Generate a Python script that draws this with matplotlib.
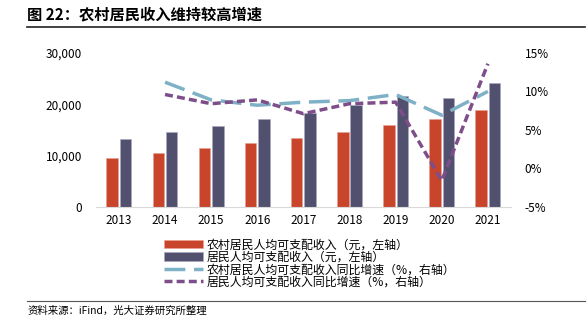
import matplotlib
matplotlib.use("Agg")
import matplotlib.pyplot as plt
import numpy as np

plt.rcParams['font.family'] = ['Noto Sans CJK SC', 'DejaVu Sans']

years = ['2013', '2014', '2015', '2016', '2017', '2018', '2019', '2020', '2021']
rural_income = [9430, 10489, 11422, 12363, 13432, 14617, 16021, 17131, 18931]
resident_income = [13220, 14491, 15712, 17111, 18322, 19853, 21559, 21210, 24100]
# growth rates start in 2014
rural_growth = [11.2, 8.9, 8.2, 8.6, 8.8, 9.6, 6.9, 10.0]
resident_growth = [9.6, 8.4, 8.9, 7.1, 8.4, 8.6, -1.6, 13.6]

labels = ['农村居民人均可支配收入（元，左轴）',
          '居民人均可支配收入（元，左轴）',
          '农村居民人均可支配收入同比增速（%，右轴）',
          '居民人均可支配收入同比增速（%，右轴）']

c_rural = '#C8442A'
c_res = '#52506F'
c_blue = '#7FB1C6'
c_purple = '#7E4E8A'

fig = plt.figure(figsize=(5.88, 3.25), dpi=100)
ax = fig.add_axes([0.163, 0.364, 0.706, 0.473])
x = np.arange(len(years))
w = 0.25
b1 = ax.bar(x - 0.145, rural_income, w, color=c_rural, edgecolor='#E8A090', linewidth=0.4, label=labels[0])
b2 = ax.bar(x + 0.145, resident_income, w, color=c_res, edgecolor='#A8A8C0', linewidth=0.4, label=labels[1])
ax.set_ylim(0, 30000)
ax.set_xlim(-0.5, 8.5)
ax.set_yticks([0, 10000, 20000, 30000])
ax.set_yticklabels(['0', '10,000', '20,000', '30,000'])
ax.set_xticks(x)
ax.set_xticklabels(years)
for s in ['top', 'right', 'left']:
    ax.spines[s].set_visible(False)
ax.spines['bottom'].set_color('#D9D9D9')
ax.tick_params(axis='y', length=0, labelsize=8.5, pad=10)
ax.tick_params(axis='x', length=0, labelsize=8.5, pad=5)

ax2 = ax.twinx()
l1, = ax2.plot(x[1:], rural_growth, color=c_blue, lw=2.5, dashes=(6, 2.5), label=labels[2])
l2, = ax2.plot(x[1:], resident_growth, color=c_purple, lw=2.5, dashes=(2.3, 1.2), label=labels[3])
ax2.set_ylim(-5, 15)
ax2.set_yticks([-5, 0, 5, 10, 15])
ax2.set_yticklabels(['-5%', '0%', '5%', '10%', '15%'])
for s in ['top', 'right', 'left', 'bottom']:
    ax2.spines[s].set_visible(False)
ax2.tick_params(axis='y', length=0, labelsize=8.5, pad=10)

fig.legend([b1, b2, l1, l2], labels, loc='upper left', bbox_to_anchor=(0.268, 0.285),
           frameon=False, fontsize=8.6, handlelength=3.3, handletextpad=0.3,
           labelspacing=-0.05, borderpad=0)

fig.text(0.046, 0.957, '图 22：农村居民收入维持较高增速', fontsize=11, fontweight='bold', va='center')
fig.add_artist(plt.Line2D([0.046, 0.995], [0.917, 0.917], color='#222222', lw=1.2))
fig.add_artist(plt.Line2D([0.046, 0.995], [0.074, 0.074], color='#555555', lw=0.8))
fig.text(0.046, 0.045, '资料来源：iFind，光大证券研究所整理', fontsize=7.5, va='center')

fig.savefig('out.png', dpi=100)
